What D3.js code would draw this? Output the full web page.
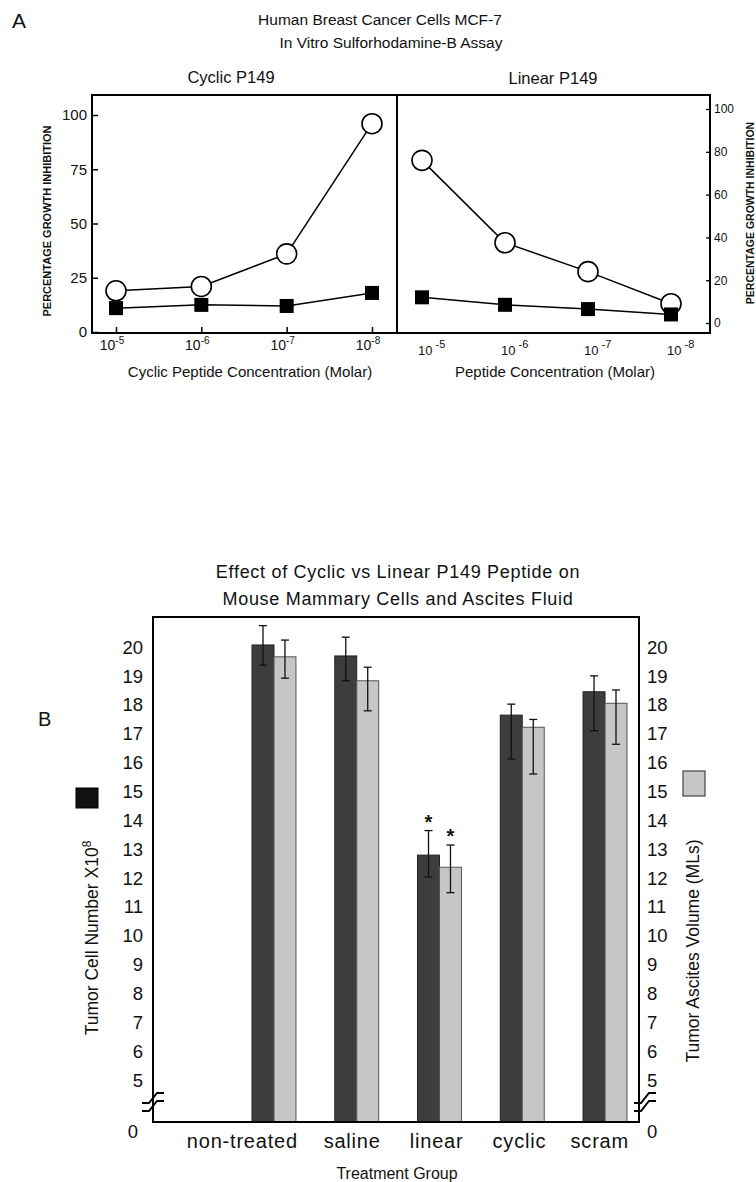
<!DOCTYPE html>
<html><head><meta charset="utf-8">
<script src="https://cdn.jsdelivr.net/npm/d3@7"></script>
<style>
body{margin:0;background:#fff}
svg{display:block}
text{font-family:"Liberation Sans",Arial,Helvetica,sans-serif;fill:#111}
</style>
</head><body>
<svg id="c" width="756" height="1182"></svg>
<script>
// ---------- Panel A data ----------
const concExp = ["-5", "-6", "-7", "-8"];
const cyclicOpen = [19, 21, 36, 96];
const cyclicFilled = [11, 12.5, 12, 18];
const linearOpen = [76, 37.5, 24, 9];
const linearFilled = [12, 8.5, 6.5, 4];
const yTicksCyclic = [0, 25, 50, 75, 100];
const yTicksLinear = [0, 20, 40, 60, 80, 100];

// ---------- Panel B data ----------
const groups = ["non-treated", "saline", "linear", "cyclic", "scram"];
const cellNumber = [20.07, 19.69, 12.79, 17.64, 18.45];
const cellErrHi = [0.67, 0.65, 0.85, 0.38, 0.55];
const cellErrLo = [0.70, 0.86, 0.76, 1.52, 1.35];
const ascites = [19.66, 18.83, 12.37, 17.22, 18.05];
const ascErrHi = [0.58, 0.47, 0.77, 0.27, 0.46];
const ascErrLo = [0.74, 1.04, 0.88, 1.62, 1.42];
const significant = [false, false, true, false, false];
const yTicksB = [0, 5, 6, 7, 8, 9, 10, 11, 12, 13, 14, 15, 16, 17, 18, 19, 20];

const svg = d3.select("#c");
const DARK = "#3d3d3d", LIGHT = "#c6c6c6";

// ================= PANEL A =================
svg.append("text").attr("x", 12).attr("y", 28).style("font-size", "21px").text("A");
svg.append("text").attr("x", 380).attr("y", 25).attr("text-anchor", "middle").style("font-size", "15.5px").text("Human Breast Cancer Cells MCF-7");
svg.append("text").attr("x", 391).attr("y", 48).attr("text-anchor", "middle").style("font-size", "15.5px").text("In Vitro Sulforhodamine-B Assay");

const A = {left: 92, mid: 397, right: 710, top: 95, bottom: 333};
svg.append("text").attr("x", 231).attr("y", 83).attr("text-anchor", "middle").style("font-size", "16.5px").text("Cyclic P149");
svg.append("text").attr("x", 553).attr("y", 84).attr("text-anchor", "middle").style("font-size", "16.5px").text("Linear P149");

svg.append("rect").attr("x", A.left).attr("y", A.top).attr("width", A.right - A.left).attr("height", A.bottom - A.top)
  .attr("fill", "none").attr("stroke", "#000").attr("stroke-width", 2);
svg.append("line").attr("x1", A.mid).attr("x2", A.mid).attr("y1", A.top).attr("y2", A.bottom).attr("stroke", "#000").attr("stroke-width", 2);

// Left (cyclic) scales
const xL = d3.scalePoint().domain(concExp).range([116, 372]);
const yL = d3.scaleLinear().domain([0, 100]).range([332, 115]);
// Right (linear) scales
const xR = d3.scalePoint().domain(concExp).range([422, 671]);
const yR = d3.scaleLinear().domain([0, 100]).range([323, 109]);

// left y axis
const gyL = svg.append("g").attr("transform", `translate(${A.left},0)`)
  .call(d3.axisRight(yL).tickValues(yTicksCyclic).tickSize(6).tickFormat(""));
gyL.select(".domain").remove();
gyL.selectAll("line").attr("stroke", "#000").attr("stroke-width", 1.5);
svg.append("g").selectAll("text").data(yTicksCyclic).join("text")
  .attr("x", A.left - 5).attr("y", d => yL(d)).attr("dy", "0.36em").attr("text-anchor", "end")
  .style("font-size", "15px").text(d => d);

// left x ticks (inside)
const gxL = svg.append("g").attr("transform", `translate(0,${A.bottom})`)
  .call(d3.axisTop(xL).tickSize(6).tickFormat(""));
gxL.select(".domain").remove();
gxL.selectAll("line").attr("stroke", "#000").attr("stroke-width", 1.5);
const lblL = svg.append("g").selectAll("text").data(concExp).join("text")
  .attr("x", d => xL(d) - 4).attr("y", 350).attr("text-anchor", "middle").style("font-size", "14px");
lblL.append("tspan").text("10");
lblL.append("tspan").attr("dy", -6).style("font-size", "10px").text(d => d);

svg.append("text").attr("x", 250).attr("y", 377).attr("text-anchor", "middle").style("font-size", "15px")
  .text("Cyclic Peptide Concentration (Molar)");
svg.append("text").attr("transform", `translate(51,${221}) rotate(-90)`)
  .attr("text-anchor", "middle").style("font-size", "11px").style("font-weight", "bold")
  .text("PERCENTAGE GROWTH INHIBITION");

// right y axis
const gyR = svg.append("g").attr("transform", `translate(${A.right},0)`)
  .call(d3.axisLeft(yR).tickValues(yTicksLinear).tickSize(4).tickFormat(""));
gyR.select(".domain").remove();
gyR.selectAll("line").attr("stroke", "#000").attr("stroke-width", 1.3);
svg.append("g").selectAll("text").data(yTicksLinear).join("text")
  .attr("x", A.right + 4).attr("y", d => yR(d)).attr("dy", "0.36em").attr("text-anchor", "start")
  .style("font-size", "12px").text(d => d);
const lblR = svg.append("g").selectAll("text").data(concExp).join("text")
  .attr("x", d => xR(d) - 4).attr("y", 355).attr("text-anchor", "start").style("font-size", "13px");
lblR.append("tspan").text("10");
lblR.append("tspan").attr("dy", -7).style("font-size", "11px").text(d => " " + d);
svg.append("text").attr("x", 555).attr("y", 377).attr("text-anchor", "middle").style("font-size", "15px")
  .text("Peptide Concentration (Molar)");
svg.append("text").attr("transform", `translate(754,${213}) rotate(-90)`)
  .attr("text-anchor", "middle").style("font-size", "10.5px").style("font-weight", "bold")
  .text("PERCENTAGE GROWTH INHIBITION");

function drawSeries(x, y, open, filled) {
  const line = d3.line().x((d, i) => x(concExp[i])).y(d => y(d));
  svg.append("path").datum(open).attr("d", line).attr("fill", "none").attr("stroke", "#000").attr("stroke-width", 1.5);
  svg.append("path").datum(filled).attr("d", line).attr("fill", "none").attr("stroke", "#000").attr("stroke-width", 1.5);
  svg.append("g").selectAll("circle").data(open).join("circle")
    .attr("cx", (d, i) => x(concExp[i])).attr("cy", d => y(d)).attr("r", 10)
    .attr("fill", "#fff").attr("stroke", "#000").attr("stroke-width", 1.6);
  svg.append("g").selectAll("rect").data(filled).join("rect")
    .attr("x", (d, i) => x(concExp[i]) - 7).attr("y", d => y(d) - 7).attr("width", 14).attr("height", 14)
    .attr("fill", "#000");
}
drawSeries(xL, yL, cyclicOpen, cyclicFilled);
drawSeries(xR, yR, linearOpen, linearFilled);

// ================= PANEL B =================
svg.append("text").attr("x", 398).attr("y", 578).attr("text-anchor", "middle").style("font-size", "18px").style("letter-spacing", "0.7px")
  .text("Effect of Cyclic vs Linear P149 Peptide on");
svg.append("text").attr("x", 398).attr("y", 605).attr("text-anchor", "middle").style("font-size", "18px").style("letter-spacing", "0.7px")
  .text("Mouse Mammary Cells and Ascites Fluid");
svg.append("text").attr("x", 38).attr("y", 726).style("font-size", "20px").text("B");

const B = {left: 153, right: 639, top: 617, bottom: 1122};
const yB = d3.scaleLinear().domain([0, 5, 20]).range([B.bottom, 1080, 647]);
const xB = d3.scaleBand().domain(groups).range([252, 627]).paddingInner(0.469).paddingOuter(0);
const xSub = d3.scaleBand().domain(["cell", "asc"]).range([0, xB.bandwidth()]).padding(0);

// bars
groups.forEach((g, i) => {
  const specs = [
    {k: "cell", v: cellNumber[i], hi: cellErrHi[i], lo: cellErrLo[i], fill: DARK, stroke: "#222"},
    {k: "asc", v: ascites[i], hi: ascErrHi[i], lo: ascErrLo[i], fill: LIGHT, stroke: "#555"}
  ];
  specs.forEach(s => {
    const x0 = xB(g) + xSub(s.k), w = xSub.bandwidth();
    svg.append("rect").attr("x", x0).attr("y", yB(s.v)).attr("width", w).attr("height", B.bottom - yB(s.v))
      .attr("fill", s.fill).attr("stroke", s.stroke).attr("stroke-width", 1);
    const cx = x0 + w / 2;
    const yt = yB(s.v + s.hi), yb = yB(s.v - s.lo);
    svg.append("line").attr("x1", cx).attr("x2", cx).attr("y1", yt).attr("y2", yb).attr("stroke", "#111").attr("stroke-width", 1.3);
    [yt, yb].forEach(yy => svg.append("line").attr("x1", cx - 4).attr("x2", cx + 4).attr("y1", yy).attr("y2", yy)
      .attr("stroke", "#111").attr("stroke-width", 1.3));
    if (significant[i]) {
      svg.append("text").attr("x", cx).attr("y", yt - 2).attr("text-anchor", "middle")
        .style("font-size", "20px").style("font-weight", "bold").text("*");
    }
  });
});

// frame
svg.append("rect").attr("x", B.left).attr("y", B.top).attr("width", B.right - B.left).attr("height", B.bottom - B.top)
  .attr("fill", "none").attr("stroke", "#000").attr("stroke-width", 2);

// tick labels (no tick marks)
svg.append("g").selectAll("text").data(yTicksB).join("text")
  .attr("x", d => d === 0 ? 138 : 143).attr("y", d => yB(d)).attr("dy", d => d === 0 ? "0.85em" : "0.36em")
  .attr("text-anchor", "end").style("font-size", "18.5px").text(d => d);
svg.append("g").selectAll("text").data(yTicksB).join("text")
  .attr("x", 647).attr("y", d => yB(d)).attr("dy", d => d === 0 ? "0.85em" : "0.36em")
  .attr("text-anchor", "start").style("font-size", "18.5px").text(d => d);

// axis breaks
function brk(x, y) {
  const g = svg.append("g").attr("transform", `translate(${x},${y})`);
  [-4, 4].forEach(o => g.append("path")
    .attr("d", `M-11,${o + 5} L-4,${o + 5} L4,${o - 5} L11,${o - 5}`)
    .attr("fill", "none").attr("stroke", "#000").attr("stroke-width", 2));
}
brk(B.left, 1102);
brk(B.right + 6, 1102);

// category labels
svg.append("g").selectAll("text").data(groups).join("text")
  .attr("x", d => xB(d) + xB.bandwidth() + 2).attr("y", 1148).attr("text-anchor", "end")
  .style("font-size", "20px").style("letter-spacing", "0.8px").text(d => d);
svg.append("text").attr("x", 397).attr("y", 1179).attr("text-anchor", "middle").style("font-size", "16px").text("Treatment Group");

// y titles
const tl = svg.append("text").attr("transform", "translate(98,938) rotate(-90)").attr("text-anchor", "middle").style("font-size", "17.5px");
tl.append("tspan").text("Tumor Cell Number X10");
tl.append("tspan").attr("dy", -7).style("font-size", "12px").text("8");
svg.append("text").attr("transform", "translate(699,951) rotate(-90)").attr("text-anchor", "middle").style("font-size", "17.5px")
  .text("Tumor Ascites Volume (MLs)");

// legend swatches
svg.append("rect").attr("x", 76).attr("y", 788).attr("width", 22).attr("height", 20).attr("fill", "#111").attr("stroke", "#000");
svg.append("rect").attr("x", 683).attr("y", 771).attr("width", 22).attr("height", 25).attr("fill", LIGHT).attr("stroke", "#444").attr("stroke-width", 1.2);
</script>
</body></html>
